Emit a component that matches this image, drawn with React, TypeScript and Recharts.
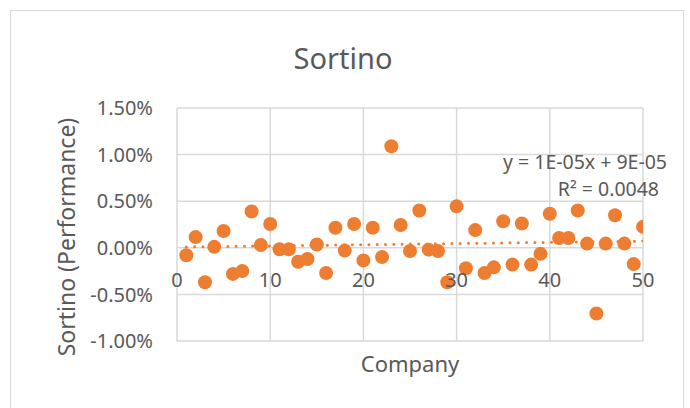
import { ScatterChart, Scatter, XAxis, YAxis, CartesianGrid } from "recharts";

const companies = [
  1, 2, 3, 4, 5, 6, 7, 8, 9, 10, 11, 12, 13, 14, 15, 16, 17, 18, 19, 20, 21, 22, 23, 24, 25,
  26, 27, 28, 29, 30, 31, 32, 33, 34, 35, 36, 37, 38, 39, 40, 41, 42, 43, 44, 45, 46, 47, 48, 49, 50,
];

// Sortino ratio, in percent
const sortino = [
  -0.08, 0.115, -0.37, 0.01, 0.18, -0.28, -0.25, 0.39, 0.03, 0.255,
  -0.015, -0.015, -0.15, -0.12, 0.035, -0.27, 0.215, -0.03, 0.255, -0.135,
  0.215, -0.1, 1.09, 0.245, -0.035, 0.4, -0.02, -0.035, -0.37, 0.445,
  -0.22, 0.19, -0.27, -0.21, 0.285, -0.18, 0.26, -0.18, -0.065, 0.365,
  0.105, 0.105, 0.4, 0.045, -0.705, 0.045, 0.35, 0.045, -0.175, 0.225,
];

const xTicks = [0, 10, 20, 30, 40, 50];
const yTicks = [-1, -0.5, 0, 0.5, 1, 1.5];
const Y_MIN = -1;
const Y_MAX = 1.5;

const TITLE = "Sortino";
const X_LABEL = "Company";
const Y_LABEL = "Sortino (Performance)";
const EQUATION = "y = 1E-05x + 9E-05";
const R_SQUARED = "R² = 0.0048";

const ORANGE = "#ED7D31";
const TEXT = "#595959";
const GRID = "#d9d9d9";
const FONT = '"Noto Sans", sans-serif';

const W = 690;
const H = 408;
const MARGIN = { top: 108, right: 47, bottom: 0, left: 0 };
const Y_AXIS_W = 177;
const X_AXIS_H = 67;
const PLOT_H = H - MARGIN.top - X_AXIS_H;
// distance from the bottom of the plot up to the zero line, where Excel puts the x labels
const ZERO_SHIFT = (PLOT_H * (0 - Y_MIN)) / (Y_MAX - Y_MIN);

const points = companies.map((c, i) => ({ x: c, y: sortino[i] }));

// least squares linear trendline
function linearFit(xs: number[], ys: number[]) {
  const n = xs.length;
  const mx = xs.reduce((a, b) => a + b, 0) / n;
  const my = ys.reduce((a, b) => a + b, 0) / n;
  let sxy = 0;
  let sxx = 0;
  for (let i = 0; i < n; i++) {
    sxy += (xs[i] - mx) * (ys[i] - my);
    sxx += (xs[i] - mx) ** 2;
  }
  const slope = sxy / sxx;
  return { slope, intercept: my - slope * mx };
}

const fit = linearFit(companies, sortino);
const first = companies[0];
const last = companies[companies.length - 1];
const trend = [
  { x: first, y: fit.intercept + fit.slope * first },
  { x: last, y: fit.intercept + fit.slope * last },
];

const fmtPct = (v: number) => `${v.toFixed(2)}%`;

function XTick(props: any) {
  const { x, y, payload } = props;
  return (
    <text
      x={x}
      y={y - ZERO_SHIFT + 32}
      textAnchor="middle"
      dominantBaseline="central"
      fill={TEXT}
      fontSize={20}
      fontFamily={FONT}
    >
      {payload.value}
    </text>
  );
}

const dot = (p: any) => <circle cx={p.cx} cy={p.cy} r={7} fill={ORANGE} />;

export default function App() {
  return (
    <div
      style={{
        position: "absolute",
        left: 0,
        top: 0,
        width: W,
        height: H,
        overflow: "hidden",
        background: "#fff",
        fontFamily: FONT,
      }}
    >
      <div
        style={{
          position: "absolute",
          left: 10,
          top: 10,
          width: 672,
          height: 420,
          border: `1px solid ${GRID}`,
        }}
      />
      <div style={{ position: "absolute", left: 0, top: 0 }}>
        <ScatterChart width={W} height={H} margin={MARGIN}>
          <CartesianGrid stroke={GRID} strokeWidth={1.5} />
          <XAxis
            type="number"
            dataKey="x"
            domain={[0, 50]}
            ticks={xTicks}
            height={X_AXIS_H}
            axisLine={false}
            tickLine={false}
            tickSize={0}
            tickMargin={0}
            tick={<XTick />}
            allowDataOverflow
          />
          <YAxis
            type="number"
            dataKey="y"
            domain={[Y_MIN, Y_MAX]}
            ticks={yTicks}
            width={Y_AXIS_W}
            axisLine={false}
            tickLine={false}
            tickSize={0}
            tickMargin={24}
            tickFormatter={fmtPct}
            tick={{ fill: TEXT, fontSize: 20, fontFamily: FONT }}
            allowDataOverflow
          />
          <Scatter
            data={trend}
            line={{
              stroke: ORANGE,
              strokeWidth: 3,
              strokeDasharray: "0 8.3",
              strokeLinecap: "round",
            }}
            shape={() => <g />}
            isAnimationActive={false}
          />
          <Scatter data={points} fill={ORANGE} shape={dot} isAnimationActive={false} />
        </ScatterChart>
      </div>
      <svg
        width={W}
        height={H}
        style={{ position: "absolute", left: 0, top: 0, pointerEvents: "none" }}
        fontFamily={FONT}
        fill={TEXT}
      >
        <text x={343} y={57} textAnchor="middle" dominantBaseline="central" fontSize={29}>
          {TITLE}
        </text>
        <text
          x={66}
          y={237}
          textAnchor="middle"
          dominantBaseline="central"
          fontSize={23}
          transform="rotate(-90 66 237)"
        >
          {Y_LABEL}
        </text>
        <text x={410} y={363} textAnchor="middle" dominantBaseline="central" fontSize={22}>
          {X_LABEL}
        </text>
        <text x={667} y={161} textAnchor="end" dominantBaseline="central" fontSize={19.5}>
          {EQUATION}
        </text>
        <text x={659} y={188} textAnchor="end" dominantBaseline="central" fontSize={19.5}>
          {R_SQUARED}
        </text>
      </svg>
    </div>
  );
}
